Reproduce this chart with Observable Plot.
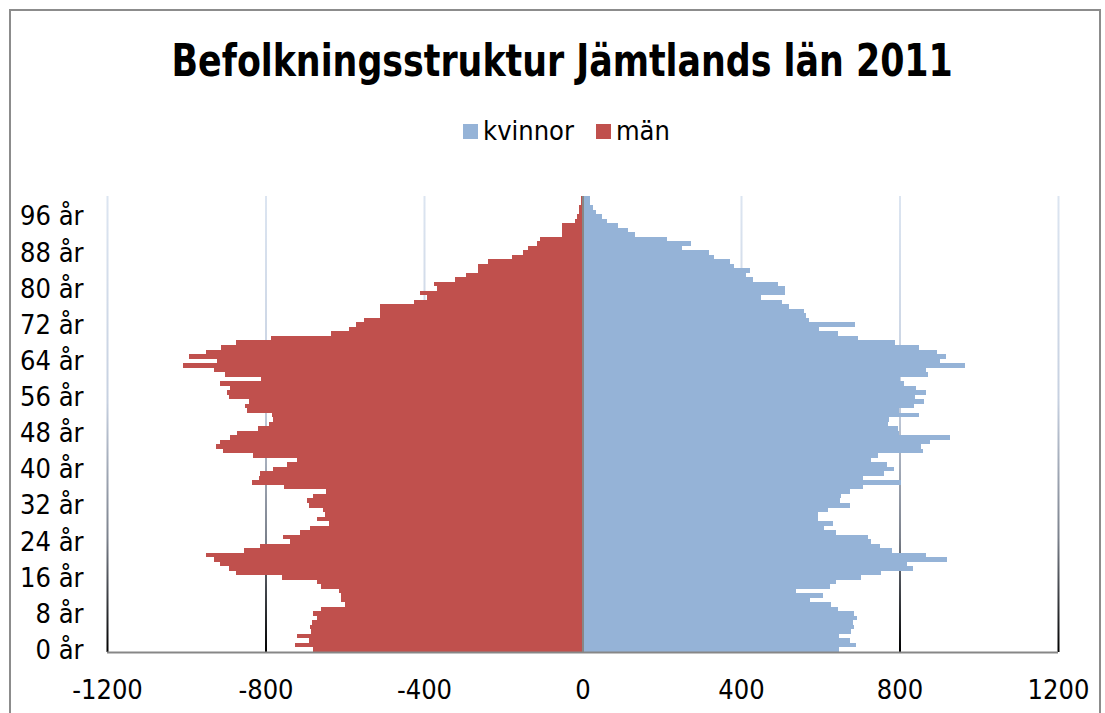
<!DOCTYPE html>
<html>
<head>
<meta charset="utf-8">
<script src="https://cdn.jsdelivr.net/npm/d3@7"></script>
<script src="https://cdn.jsdelivr.net/npm/@observablehq/plot@0.6"></script>
<style>
  html, body { margin: 0; padding: 0; background: #fff; }
  body { width: 1105px; height: 713px; overflow: hidden; position: relative;
         font-family: "Liberation Sans Narrow", "DejaVu Sans Condensed", "Liberation Sans", sans-serif; color: #000; }
  #frame { position: absolute; left: 9px; top: 9px; width: 1092px; height: 720px; border: 2px solid #8c8c8c; box-sizing: border-box; }
  #title { position: absolute; left: 10px; width: 1105px; top: 33px; text-align: center; white-space: nowrap; }
  #title span { display: inline-block; font-weight: bold; font-size: 45px; line-height: 56px; transform: scaleX(0.86); transform-origin: center; }
  #legend { position: absolute; left: 14px; width: 1105px; top: 114px; display: flex; justify-content: center; align-items: center; font-size: 27px; line-height: 34px; }
  #legend .item { display: flex; align-items: center; margin: 0 11px; }
  #legend .sw { width: 15px; height: 15px; margin-right: 5px; }
  #chart { position: absolute; left: 0; top: 170px; }
</style>
</head>
<body>
<div id="frame"></div>
<div id="title"><span>Befolkningsstruktur Jämtlands län 2011</span></div>
<div id="legend"></div>
<div id="chart"></div>
<script>
// Age categories (years)
const ages = [0,1,2,3,4,5,6,7,8,9,10,11,12,13,14,15,16,17,18,19,20,21,22,23,24,25,26,27,28,29,30,
  31,32,33,34,35,36,37,38,39,40,41,42,43,44,45,46,47,48,49,50,51,52,53,54,55,56,57,58,59,60,
  61,62,63,64,65,66,67,68,69,70,71,72,73,74,75,76,77,78,79,80,81,82,83,84,85,86,87,88,89,90,
  91,92,93,94,95,96,97,98,99,100];

// kvinnor (women), per age 0..100
const kvinnor = [648,691,674,648,677,684,682,692,686,644,627,574,608,540,625,639,704,754,835,819,
  919,868,781,752,728,720,639,610,632,595,595,620,675,651,652,675,707,804,709,762,
  785,768,729,745,860,855,877,928,799,795,771,774,848,799,837,862,840,866,842,812,
  802,872,867,966,903,917,894,848,789,696,645,597,687,572,563,560,522,503,451,511,
  511,494,431,412,423,383,372,333,318,250,273,212,132,115,90,62,48,35,26,18,20];

// män (men), per age 0..100 (shown to the left)
const man = [681,725,691,721,686,687,682,669,679,659,600,610,610,614,659,669,758,874,893,915,
  931,950,853,814,738,755,712,687,640,670,651,656,691,696,679,647,754,835,816,814,
  782,746,720,831,906,924,914,889,872,818,790,780,784,847,851,841,891,898,889,916,
  811,902,929,1007,923,992,950,912,874,787,635,590,571,551,510,510,510,424,392,411,
  366,376,321,293,264,264,239,179,150,137,114,106,51,51,51,18,13,9,8,5,3];

const seriesNames = ["kvinnor", "män"];
const seriesColors = ["#95b3d7", "#c0504d"];
const xTicks = [-1200, -800, -400, 0, 400, 800, 1200];
const gridValues = [-1200, -800, -400, 400, 800, 1200];
const yTicks = [0, 8, 16, 24, 32, 40, 48, 56, 64, 72, 80, 88, 96];
const ageSuffix = " år";

const rows = ages.map((a, i) => ({age: a, kvinnor: kvinnor[i], man: man[i]}));

// Legend
const legendEl = document.getElementById("legend");
seriesNames.forEach((n, i) => {
  const it = document.createElement("div");
  it.className = "item";
  it.innerHTML = `<span class="sw" style="background:${seriesColors[i]}"></span><span>${n}</span>`;
  legendEl.appendChild(it);
});

const W = 1105, H = 543;
const mTop = 26, mBottom = 61, mLeft = 107, mRight = 47;

const chart = Plot.plot({
  width: W,
  height: H,
  marginTop: mTop,
  marginBottom: mBottom,
  marginLeft: mLeft,
  marginRight: mRight,
  style: {fontFamily: '"Liberation Sans Narrow", "DejaVu Sans Condensed", "Liberation Sans", sans-serif', fontSize: "27px", color: "#000", background: "transparent", overflow: "visible"},
  x: {domain: [-1200, 1200]},
  y: {domain: [-0.5, 100.5]},
  marks: [
    Plot.ruleX(gridValues, {stroke: "url(#gridGrad)", strokeWidth: 2, y1: -0.5, y2: 100.5}),
    Plot.rectX(rows, {y1: d => d.age - 0.5, y2: d => d.age + 0.5, x1: 0, x2: d => -d.man, fill: seriesColors[1], shapeRendering: "crispEdges"}),
    Plot.rectX(rows, {y1: d => d.age - 0.5, y2: d => d.age + 0.5, x1: 0, x2: d => d.kvinnor, fill: seriesColors[0], shapeRendering: "crispEdges"}),
    Plot.ruleX([0], {stroke: "#878787", strokeWidth: 2, y1: -0.5, y2: 100.5}),
    Plot.ruleY([-0.5], {stroke: "#878787", strokeWidth: 2, x1: -1200, x2: 1200}),
    Plot.axisY({ticks: yTicks, tickFormat: d => d + ageSuffix, tickSize: 0, tickPadding: 24, label: null}),
    Plot.axisX({ticks: xTicks, tickFormat: d => String(d), tickSize: 0, tickPadding: 27, label: null})
  ]
});

const gTop = mTop, gBottom = H - mBottom;
chart.insertAdjacentHTML("afterbegin",
  `<defs><linearGradient id="gridGrad" gradientUnits="userSpaceOnUse" x1="0" y1="${gTop}" x2="0" y2="${gBottom}">
    <stop offset="0" stop-color="#dce5f1"/>
    <stop offset="0.45" stop-color="#c6d0e0"/>
    <stop offset="0.75" stop-color="#7b818c"/>
    <stop offset="1" stop-color="#000000"/>
  </linearGradient></defs>`);
document.getElementById("chart").appendChild(chart);
</script>
</body>
</html>
